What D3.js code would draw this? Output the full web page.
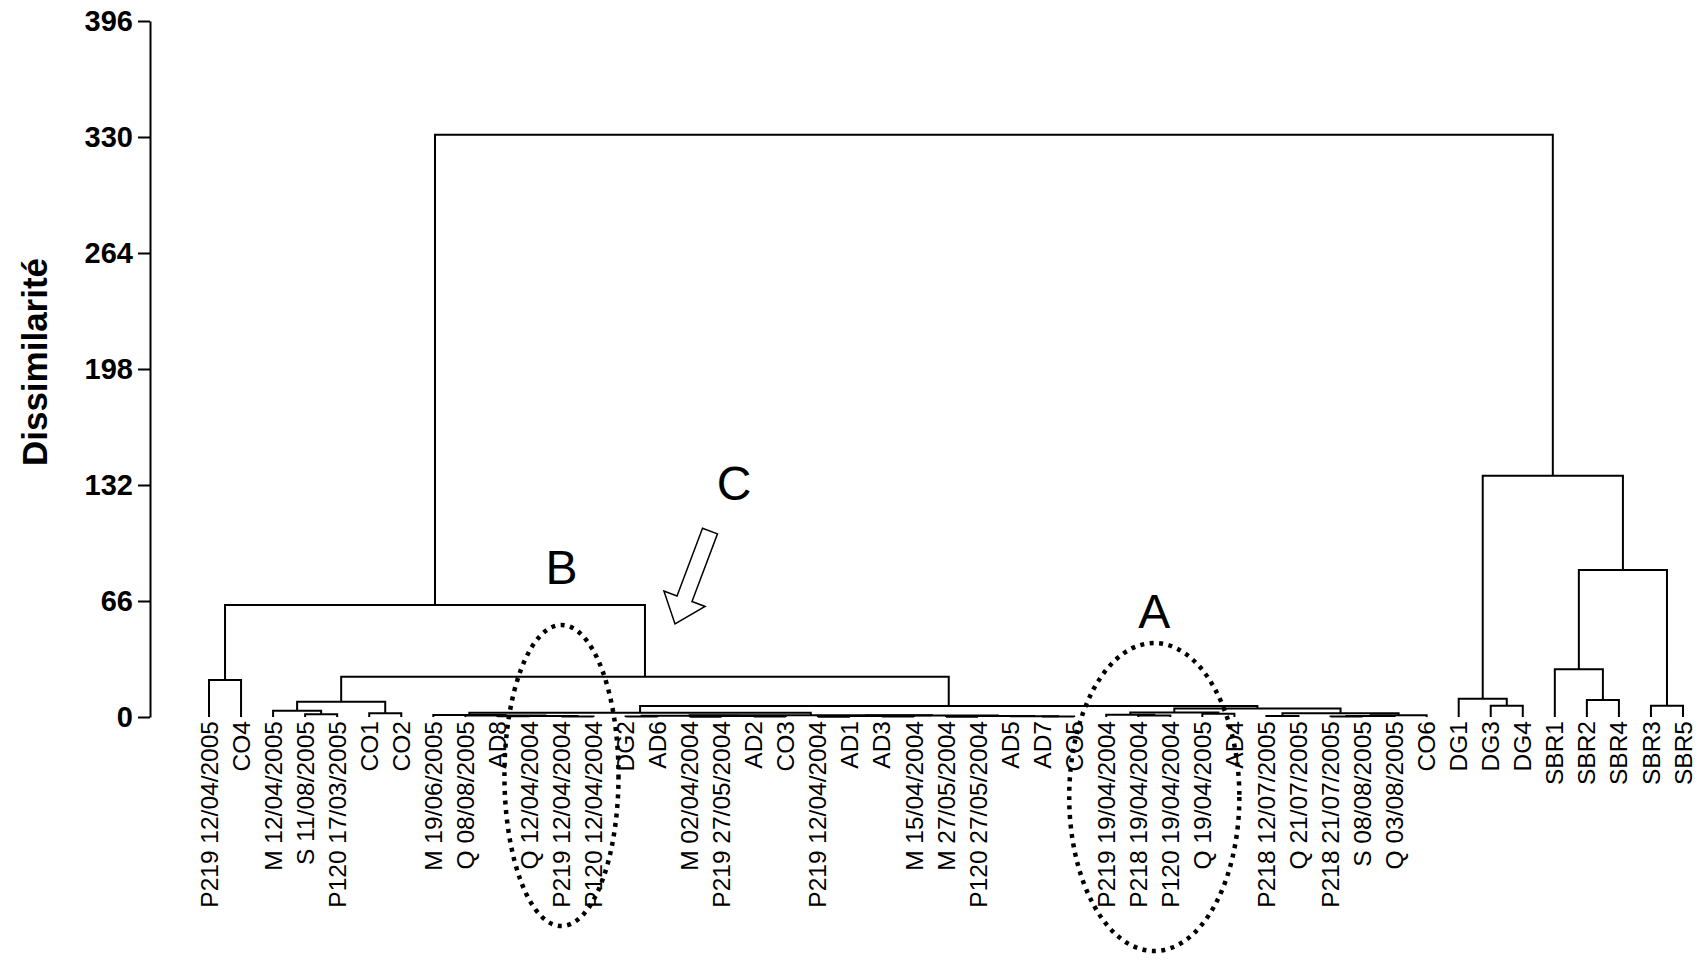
<!DOCTYPE html>
<html>
<head>
<meta charset="utf-8">
<script src="https://cdn.jsdelivr.net/npm/d3@7"></script>
<style>
  body { margin: 0; background: #fff; }
  text { font-family: "Liberation Sans", Arial, sans-serif; }
</style>
</head>
<body>
<script>
// leaves, in the order they appear under the tree
var leafLabels = [
  "P219 12/04/2005", "CO4", "M 12/04/2005", "S 11/08/2005", "P120 17/03/2005",
  "CO1", "CO2", "M 19/06/2005", "Q 08/08/2005", "AD8",
  "Q 12/04/2004", "P219 12/04/2004", "P120 12/04/2004", "DG2", "AD6",
  "M 02/04/2004", "P219 27/05/2004", "AD2", "CO3", "P219 12/04/2004",
  "AD1", "AD3", "M 15/04/2004", "M 27/05/2004", "P120 27/05/2004",
  "AD5", "AD7", "CO5", "P219 19/04/2004", "P218 19/04/2004",
  "P120 19/04/2004", "Q 19/04/2005", "AD4", "P218 12/07/2005", "Q 21/07/2005",
  "P218 21/07/2005", "S 08/08/2005", "Q 03/08/2005", "CO6", "DG1",
  "DG3", "DG4", "SBR1", "SBR2", "SBR4",
  "SBR3", "SBR5"
];

// merges: [left, right, dissimilarity]; ids < 47 are leaves, id 47+k is merge k
var merges = [
  [0, 1, 21],      // 47
  [3, 4, 1.5],     // 48
  [2, 48, 3.6],    // 49
  [5, 6, 2.1],     // 50
  [49, 50, 8.7],   // 51
  [11, 12, 0.3],   // 52
  [9, 10, 0.4],    // 53
  [53, 52, 0.6],   // 54
  [8, 54, 0.9],    // 55
  [7, 55, 1.2],    // 56
  [13, 14, 0.3],   // 57
  [15, 16, 0.2],   // 58
  [17, 18, 0.3],   // 59
  [58, 59, 0.5],   // 60
  [57, 60, 0.7],   // 61
  [19, 20, 0.2],   // 62
  [21, 22, 0.3],   // 63
  [62, 63, 0.5],   // 64
  [23, 24, 0.2],   // 65
  [26, 27, 0.3],   // 66
  [25, 66, 0.4],   // 67
  [65, 67, 0.6],   // 68
  [64, 68, 0.8],   // 69
  [61, 69, 1.0],   // 70
  [56, 70, 2.4],   // 71
  [29, 30, 0.8],   // 72
  [28, 72, 1.3],   // 73
  [31, 32, 1.8],   // 74
  [73, 74, 2.6],   // 75
  [33, 34, 0.6],   // 76
  [35, 36, 0.3],   // 77
  [77, 37, 0.5],   // 78
  [78, 38, 1.0],   // 79
  [76, 79, 2.2],   // 80
  [75, 80, 4.8],   // 81
  [71, 81, 6.3],   // 82
  [51, 82, 22.9],  // 83
  [47, 83, 63.7],  // 84
  [40, 41, 6.4],   // 85
  [39, 85, 10.4],  // 86
  [43, 44, 9.7],   // 87
  [42, 87, 27.1],  // 88
  [45, 46, 6.4],   // 89
  [88, 89, 83.6],  // 90
  [86, 90, 137.3], // 91
  [84, 91, 331.3]  // 92
];

var yTicks = [0, 66, 132, 198, 264, 330, 396];
var yTitle = "Dissimilarité";

// circled groups (leaf index ranges) and the arrow label
var groups = [
  { name: "B", first: 10, last: 12 },
  { name: "A", first: 28, last: 31 }
];
var arrowLabel = "C";

var W = 1703, H = 960;

var svg = d3.select("body").append("svg")
    .attr("width", W)
    .attr("height", H)
    .style("background", "#fff");

var xScale = d3.scaleLinear()
  .domain([0, leafLabels.length - 1])
  .range([209, 1683]);
var yScale = d3.scaleLinear()
  .domain([0, 396])
  .range([717, 21]);

// node positions: leaves on the scale, merges at the middle of their children
var nodes = leafLabels.map(function(d, i) { return { x: xScale(i), h: 0 }; });
merges.forEach(function(m) {
  var a = nodes[m[0]], b = nodes[m[1]];
  nodes.push({ x: (a.x + b.x) / 2, h: m[2], a: a, b: b });
});

svg.append("g")
  .selectAll("path")
  .data(nodes.filter(function(d) { return d.a; }))
  .enter().append("path")
    .attr("fill", "none")
    .attr("stroke", "#000")
    .attr("stroke-width", 2)
    .attr("d", function(d) {
      return "M" + d.a.x + "," + yScale(d.a.h) +
             "V" + yScale(d.h) +
             "H" + d.b.x +
             "V" + yScale(d.b.h);
    });

// y axis
var yAxis = svg.append("g")
    .attr("transform", "translate(150,0)")
    .call(d3.axisLeft(yScale).tickValues(yTicks).tickSize(12).tickSizeOuter(0).tickPadding(5));
yAxis.select(".domain").attr("stroke-width", 2);
yAxis.selectAll(".tick line").attr("stroke-width", 2);
yAxis.selectAll(".tick text")
    .attr("font-family", "'Liberation Sans', Arial, sans-serif")
    .attr("font-size", 29)
    .attr("font-weight", "bold")
    .attr("fill", "#000");

svg.append("text")
    .attr("transform", "translate(47,362) rotate(-90)")
    .attr("text-anchor", "middle")
    .attr("font-size", 35)
    .attr("font-weight", "bold")
    .text(yTitle);

// leaf labels
svg.append("g")
  .selectAll("text")
  .data(leafLabels)
  .enter().append("text")
    .attr("transform", function(d, i) { return "translate(" + xScale(i) + ",721) rotate(-90)"; })
    .attr("text-anchor", "end")
    .attr("dy", "0.35em")
    .attr("font-size", 24.5)
    .text(function(d) { return d; });

// dotted ellipses around groups A and B
var groupBox = { B: { pad: 25, top: 625, bottom: 926, labelY: 584 },
                 A: { pad: 37, top: 643, bottom: 951, labelY: 628 } };
groups.forEach(function(g) {
  var b = groupBox[g.name];
  var cx = (xScale(g.first) + xScale(g.last)) / 2;
  var rx = (xScale(g.last) - xScale(g.first)) / 2 + b.pad;
  svg.append("ellipse")
      .attr("cx", cx)
      .attr("cy", (b.top + b.bottom) / 2)
      .attr("rx", rx)
      .attr("ry", (b.bottom - b.top) / 2)
      .attr("fill", "none")
      .attr("stroke", "#000")
      .attr("stroke-width", 4.5)
      .attr("stroke-dasharray", "4 5.5");
  svg.append("text")
      .attr("x", cx)
      .attr("y", b.labelY)
      .attr("text-anchor", "middle")
      .attr("font-size", 48)
      .text(g.name);
});

// hollow arrow C
var tail = [710, 531], tip = [675, 624];
var dx = tip[0] - tail[0], dy = tip[1] - tail[1];
var len = Math.sqrt(dx * dx + dy * dy);
var ux = dx / len, uy = dy / len, nx = -uy, ny = ux;
var sw = 8, hw = 22, hl = 27;
var bx = tip[0] - ux * hl, by = tip[1] - uy * hl;
var pts = [
  [tail[0] + nx * sw, tail[1] + ny * sw],
  [bx + nx * sw, by + ny * sw],
  [bx + nx * hw, by + ny * hw],
  tip,
  [bx - nx * hw, by - ny * hw],
  [bx - nx * sw, by - ny * sw],
  [tail[0] - nx * sw, tail[1] - ny * sw]
];
svg.append("path")
    .attr("d", "M" + pts.map(function(p) { return p[0] + "," + p[1]; }).join("L") + "Z")
    .attr("fill", "#fff")
    .attr("stroke", "#000")
    .attr("stroke-width", 1.5);
svg.append("text")
    .attr("x", 734)
    .attr("y", 500)
    .attr("text-anchor", "middle")
    .attr("font-size", 48)
    .text(arrowLabel);
</script>
</body>
</html>
